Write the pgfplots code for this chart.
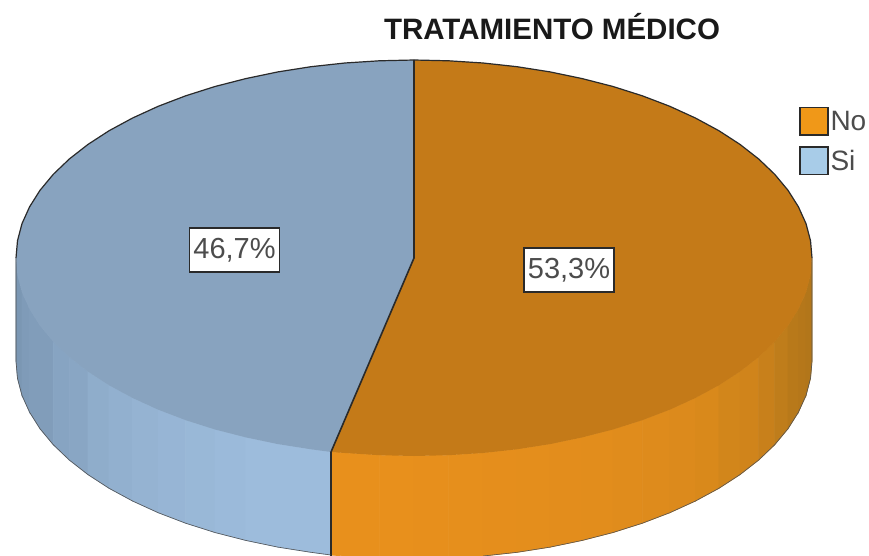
\documentclass[border=0pt]{standalone}
\usepackage{pgfplots}
\pgfplotsset{compat=1.18}
\usepackage{fontspec}
\setmainfont{Liberation Sans}
\definecolor{bl}{HTML}{9DBCDC}
\definecolor{bd}{HTML}{7590AC}
\definecolor{ol}{HTML}{E8901C}
\definecolor{od}{HTML}{B2761A}
\definecolor{bt}{HTML}{88A3BF}
\definecolor{ot}{HTML}{C47A18}
\definecolor{lnk}{HTML}{2A2A2A}
\definecolor{legO}{HTML}{F09818}
\definecolor{legB}{HTML}{A8CCE8}
\newcommand{\QB}[7]{\addplot[forget plot,fill=bl!#1!bd,draw=bl!#1!bd,line width=0.8pt] coordinates {(#2,#3)(#5,#6)(#5,#7)(#2,#4)} --cycle;}
\newcommand{\QO}[7]{\addplot[forget plot,fill=ol!#1!od,draw=ol!#1!od,line width=0.8pt] coordinates {(#2,#3)(#5,#6)(#5,#7)(#2,#4)} --cycle;}
\begin{document}
\begin{tikzpicture}
\useasboundingbox (0,0) rectangle (869pt,556pt);
\begin{axis}[
  at={(0,0)},anchor=south west,
  scale only axis,width=869pt,height=556pt,
  xmin=0,xmax=869,ymin=0,ymax=556,y dir=reverse,
  hide axis,clip=true,
  title={\bfseries TRATAMIENTO MÉDICO},
  title style={font=\fontsize{29.5}{31}\selectfont,at={(axis cs:552,33)},anchor=center,inner sep=0pt,text=black!90},
  legend style={at={(axis cs:799,107)},anchor=north west,draw=none,fill=none,inner sep=0pt,
    font=\fontsize{28}{30}\selectfont,text=black!70,row sep=11pt,
    nodes={inner sep=0pt,outer sep=0pt}},
  legend cell align=left,
  legend image code/.code={\draw[#1] (0pt,-13.5pt) rectangle (28pt,13.5pt);},
  legend columns=1,
]
% side of the cylinder, blue part
\QB{0}{16}{258}{361}{17.5}{275.3}{378.3}
\QB{15}{17.5}{275.3}{378.3}{22}{292.4}{395.4}
\QB{25}{22}{292.4}{395.4}{29.6}{309.2}{412.2}
\QB{30}{29.6}{309.2}{412.2}{40}{325.7}{428.7}
\QB{30}{40}{325.7}{428.7}{53.3}{341.7}{444.7}
\QB{45}{53.3}{341.7}{444.7}{69.3}{357}{460}
\QB{50}{69.3}{357}{460}{88}{371.6}{474.6}
\QB{65}{88}{371.6}{474.6}{109.1}{385.3}{488.3}
\QB{72}{109.1}{385.3}{488.3}{132.6}{398}{501}
\QB{80}{132.6}{398}{501}{158.2}{409.7}{512.7}
\QB{85}{158.2}{409.7}{512.7}{185.7}{420.2}{523.2}
\QB{90}{185.7}{420.2}{523.2}{215}{429.5}{532.5}
\QB{96}{215}{429.5}{532.5}{245.8}{437.4}{540.4}
\QB{100}{245.8}{437.4}{540.4}{277.9}{444.1}{547.1}
\QB{100}{277.9}{444.1}{547.1}{311}{449.3}{552.3}
\QB{100}{311}{449.3}{552.3}{331}{452}{555}
% side of the cylinder, orange part
\QO{100}{331}{452}{555}{344.9}{453}{556}
\QO{100}{344.9}{453}{556}{379.3}{455.2}{558.2}
\QO{100}{379.3}{455.2}{558.2}{414}{456}{559}
\QO{98}{414}{456}{559}{448.7}{455.2}{558.2}
\QO{96}{448.7}{455.2}{558.2}{483.1}{453}{556}
\QO{94}{483.1}{453}{556}{517}{449.3}{552.3}
\QO{92}{517}{449.3}{552.3}{550.1}{444.1}{547.1}
\QO{90}{550.1}{444.1}{547.1}{582.2}{437.4}{540.4}
\QO{88}{582.2}{437.4}{540.4}{613}{429.5}{532.5}
\QO{85}{613}{429.5}{532.5}{642.3}{420.2}{523.2}
\QO{82}{642.3}{420.2}{523.2}{669.8}{409.7}{512.7}
\QO{78}{669.8}{409.7}{512.7}{695.4}{398}{501}
\QO{72}{695.4}{398}{501}{718.9}{385.3}{488.3}
\QO{60}{718.9}{385.3}{488.3}{740}{371.6}{474.6}
\QO{55}{740}{371.6}{474.6}{758.7}{357}{460}
\QO{40}{758.7}{357}{460}{774.7}{341.7}{444.7}
\QO{25}{774.7}{341.7}{444.7}{788}{325.7}{428.7}
\QO{12}{788}{325.7}{428.7}{798.4}{309.2}{412.2}
\QO{5}{798.4}{309.2}{412.2}{806}{292.4}{395.4}
\QO{0}{806}{292.4}{395.4}{810.5}{275.3}{378.3}
\QO{0}{810.5}{275.3}{378.3}{812}{258}{361}
% top: Si
\addplot[forget plot,fill=bt,draw=none] coordinates {(414,258)(414,60)(379.3,60.8)(344.9,63)(311,66.7)(277.9,71.9)(245.8,78.6)(215,86.5)(185.7,95.8)(158.2,106.3)(132.6,118)(109.1,130.7)(88,144.4)(69.3,159)(53.3,174.3)(40,190.3)(29.6,206.8)(22,223.6)(17.5,240.7)(16,258)(17.5,275.3)(22,292.4)(29.6,309.2)(40,325.7)(53.3,341.7)(69.3,357)(88,371.6)(109.1,385.3)(132.6,398)(158.2,409.7)(185.7,420.2)(215,429.5)(245.8,437.4)(277.9,444.1)(311,449.3)(331,452)} --cycle;
% top: No
\addplot[forget plot,fill=ot,draw=none] coordinates {(414,258)(414,60)(448.7,60.8)(483.1,63)(517,66.7)(550.1,71.9)(582.2,78.6)(613,86.5)(642.3,95.8)(669.8,106.3)(695.4,118)(718.9,130.7)(740,144.4)(758.7,159)(774.7,174.3)(788,190.3)(798.4,206.8)(806,223.6)(810.5,240.7)(812,258)(810.5,275.3)(806,292.4)(798.4,309.2)(788,325.7)(774.7,341.7)(758.7,357)(740,371.6)(718.9,385.3)(695.4,398)(669.8,409.7)(642.3,420.2)(613,429.5)(582.2,437.4)(550.1,444.1)(517,449.3)(483.1,453)(448.7,455.2)(414,456)(379.3,455.2)(344.9,453)(331,452)} --cycle;
% outlines
\addplot[forget plot,draw=lnk,line width=1.2pt,line join=round] coordinates {(16,258)(17.5,240.7)(22,223.6)(29.6,206.8)(40,190.3)(53.3,174.3)(69.3,159)(88,144.4)(109.1,130.7)(132.6,118)(158.2,106.3)(185.7,95.8)(215,86.5)(245.8,78.6)(277.9,71.9)(311,66.7)(344.9,63)(379.3,60.8)(414,60)(448.7,60.8)(483.1,63)(517,66.7)(550.1,71.9)(582.2,78.6)(613,86.5)(642.3,95.8)(669.8,106.3)(695.4,118)(718.9,130.7)(740,144.4)(758.7,159)(774.7,174.3)(788,190.3)(798.4,206.8)(806,223.6)(810.5,240.7)(812,258)};
\addplot[forget plot,draw=lnk,line width=1.6pt,line join=round] coordinates {(414,60)(414,258)(331,452)(331,556)};
\addplot[forget plot,draw=lnk!80,line width=0.6pt] coordinates {(16,258)(16,361)(17.5,378.3)(22,395.4)(29.6,412.2)(40,428.7)(53.3,444.7)(69.3,460)(88,474.6)(109.1,488.3)(132.6,501)(158.2,512.7)(185.7,523.2)(215,532.5)(245.8,540.4)(277.9,547.1)(311,552.3)(331,555)};
\addplot[forget plot,draw=lnk!80,line width=0.6pt] coordinates {(812,258)(812,361)(810.5,378.3)(806,395.4)(798.4,412.2)(788,428.7)(774.7,444.7)(758.7,460)(740,474.6)(718.9,488.3)(695.4,501)(669.8,512.7)(642.3,523.2)(613,532.5)(582.2,540.4)(550.1,547.1)(517,552.3)(483.1,556)};
% legend
\addlegendimage{draw=lnk,line width=1.3pt,fill=legO}
\addlegendentry{\hspace{2pt}No}
\addlegendimage{draw=lnk,line width=1.3pt,fill=legB}
\addlegendentry{\hspace{2pt}Si}
% labels
\node[draw=lnk,line width=1.4pt,fill=white,inner sep=0pt,minimum width=90pt,minimum height=44pt,font=\fontsize{29}{30}\selectfont,text=black!70] at (axis cs:234.5,250) {46,7\%};
\node[draw=lnk,line width=1.4pt,fill=white,inner sep=0pt,minimum width=90pt,minimum height=44pt,font=\fontsize{29}{30}\selectfont,text=black!70] at (axis cs:569,270) {53,3\%};
\end{axis}
\end{tikzpicture}
\end{document}
